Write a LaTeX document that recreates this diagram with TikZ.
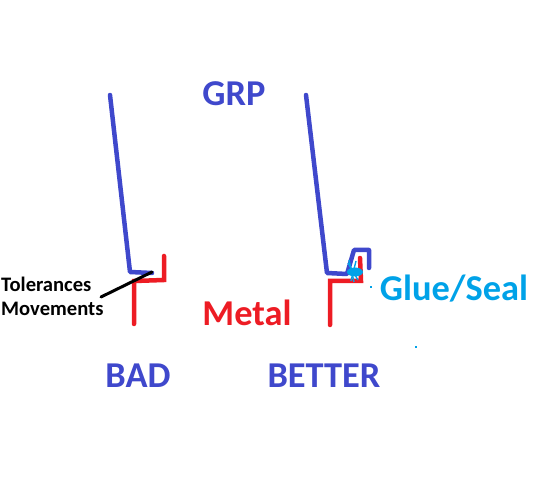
\documentclass[tikz,border=0pt]{standalone}
\usepackage{fontspec}
\setmainfont{Carlito}
\usetikzlibrary{shapes.geometric, positioning}
\definecolor{grpblue}{HTML}{3F48CC}
\definecolor{metalred}{HTML}{ED1C24}
\definecolor{glueblue}{HTML}{00A2E8}

\begin{document}
\begin{tikzpicture}[
    x=1pt, y=-1pt,
    bigtext/.style={font=\bfseries\fontsize{36.4}{40}\selectfont, inner sep=0pt},
    smalltext/.style={font=\bfseries\fontsize{20.6}{24}\selectfont, inner sep=0pt, anchor=west},
    grp/.style={draw=grpblue, line width=4.5pt, line cap=round, line join=round},
    metal/.style={draw=metalred, line width=4.5pt, line cap=round, line join=miter},
    speck/.style={fill=glueblue, inner sep=0pt, minimum width=1.5pt, minimum height=2.5pt},
    spike/.style={draw=glueblue, line width=1.4pt}
]
    \useasboundingbox (0,0) rectangle (550,500);

    % Labels
    \node [bigtext, text=grpblue] (grplabel) at (234,94) {GRP};
    \node [bigtext, text=metalred] (metallabel) at (247,313) {Metal};
    \node [bigtext, text=grpblue] (badlabel) at (138,376) {BAD};
    \node [bigtext, text=grpblue] (betterlabel) at (324,376) {BETTER};
    \node [bigtext, text=glueblue] (gluelabel) at (454,289) {Glue/Seal};
    \node [smalltext] (tollabel) at (1,284) {Tolerances};
    \node [smalltext] (movlabel) at (1,309) {Movements};

    % Bad joint
    \coordinate (badtop) at (110,95);
    \coordinate (badcorner) at (130,272);
    \coordinate (badend) at (152,273);
    \coordinate (badfoot) at (134,324);
    \coordinate (badstep) at (134,281);
    \coordinate (badrise) at (164,280);
    \coordinate (badlip) at (164,256);
    \coordinate (tolstart) at (101,297);
    \coordinate (tolend) at (152,272);
    \path [grp] (badtop) -- (badcorner) -- (badend);
    \path [metal] (badfoot) -- (badstep) -- (badrise) -- (badlip);
    \draw [line width=3pt, line cap=round] (tolstart) -- (tolend);

    % Better joint
    \coordinate (bettertop) at (306,95);
    \coordinate (bettercorner) at (327,273);
    \coordinate (betterbend) at (347,274);
    \coordinate (betterup) at (354,250);
    \coordinate (betterover) at (369,250);
    \coordinate (betterlip) at (369,268);
    \coordinate (betterfoot) at (330,325);
    \coordinate (betterstep) at (330,281);
    \coordinate (betterrise) at (361,281);
    \coordinate (betterend) at (360,258);
    \path [metal] (betterfoot) -- (betterstep) -- (betterrise) -- (betterend);
    \path [grp] (bettertop) -- (bettercorner) -- (betterbend) -- (betterup) -- (betterover) -- (betterlip);

    % Glue
    \node [fill=glueblue, ellipse, minimum width=16pt, minimum height=9pt, inner sep=0pt] (glueblob) at (355,272) {};
    \path [spike] (349,260) -- (354,282);
    \path [spike] (356,261) -- (351,281);
    \path [spike] (348,263) -- (358,280);
    \node [speck] (speckone) at (371,287) {};
    \node [speck] (specktwo) at (416,347) {};
\end{tikzpicture}
\end{document}
